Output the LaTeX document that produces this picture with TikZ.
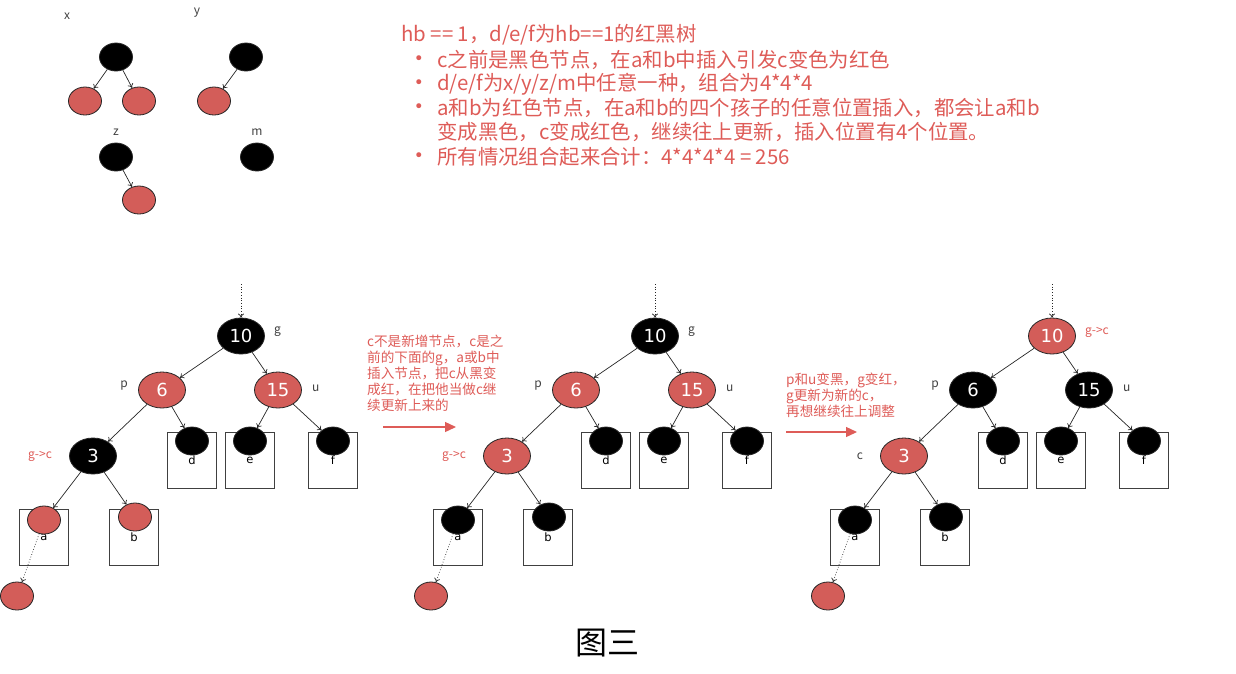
\documentclass[tikz,border=0pt]{standalone}
\usepackage{fontspec}
\setmainfont{DejaVu Sans}
\newfontfamily\cjk{Noto Sans CJK SC}
\usepackage{tikz}
\usetikzlibrary{positioning,shapes.geometric,arrows.meta}
\definecolor{rbred}{RGB}{211,93,89}
\definecolor{txtred}{RGB}{222,92,88}
\tikzset{rbnode/.style={ellipse, draw=black!85, line width=0.8pt, minimum width=47pt, minimum height=36pt, inner sep=0pt, text=white, font=\fontsize{18}{18}\selectfont}}
\tikzset{leaf/.style={ellipse, draw=black!85, line width=0.8pt, minimum width=33pt, minimum height=28pt, inner sep=0pt}}
\tikzset{subbox/.style={draw=black!75, line width=0.8pt, minimum width=49pt, minimum height=56pt, inner sep=0pt, font=\fontsize{11.5}{11.5}\selectfont}}
\tikzset{link/.style={draw=black!85, line width=0.7pt, -{To[length=4pt,width=6pt]}}}
\tikzset{dotlink/.style={link, dotted}}
\tikzset{lab/.style={inner sep=1pt, text=black!75, font=\cjk\fontsize{12}{12}\selectfont}}
\tikzset{txt/.style={inner sep=0pt, text=txtred, font=\cjk\fontsize{20.4}{24}\selectfont}}
\tikzset{stepnote/.style={inner sep=0pt, align=left, text=txtred, font=\cjk\fontsize{13.6}{16}\selectfont}}
\tikzset{bigarr/.style={draw=txtred, line width=1.3pt, -{Triangle[length=11pt,width=10pt]}}}

\begin{document}
\begin{tikzpicture}[x=1pt,y=-1pt]
\useasboundingbox (0,0) rectangle (1236,673);

% the four kinds of subtree
\node[lab] (lx) at (67,16) {x};
\node[lab] (ly) at (197,13) {y};
\node[lab] (lz) at (116,132) {z};
\node[lab] (lm) at (257,132) {m};
\node[leaf, fill=black] (x0) at (116,57) {};
\node[leaf, fill=rbred] (x1) at (85,101) {};
\node[leaf, fill=rbred] (x2) at (139,101) {};
\node[leaf, fill=black] (y0) at (246,57) {};
\node[leaf, fill=rbred] (y1) at (214,101) {};
\node[leaf, fill=black] (z0) at (116,157) {};
\node[leaf, fill=rbred] (z1) at (139,200) {};
\node[leaf, fill=black] (m0) at (257,157) {};
\foreach \a/\b in {x0/x1, x0/x2, y0/y1, z0/z1}
    \draw[link] (\a) -- (\b);

% notes
\node[txt, anchor=west] (ttl) at (401,35) {hb == 1，d/e/f为hb==1的红黑树};
\foreach \yy/\k in {60/1, 84/2, 108/3, 157/4}
    \node[txt, font=\fontsize{17}{17}\selectfont] (bul\k) at (419,\yy) {•};
\node[txt, anchor=west] (it1) at (437,60) {c之前是黑色节点，在a和b中插入引发c变色为红色};
\node[txt, anchor=west] (it2) at (437,84) {d/e/f为x/y/z/m中任意一种，组合为4*4*4};
\node[txt, anchor=west] (it3) at (437,108) {a和b为红色节点，在a和b的四个孩子的任意位置插入，都会让a和b};
\node[txt, anchor=west] (it3b) at (437,132) {变成黑色，c变成红色，继续往上更新，插入位置有4个位置。};
\node[txt, anchor=west] (it4) at (437,157) {所有情况组合起来合计：4*4*4*4 = 256};

% three steps of the update
\foreach \dx/\tr/\rc/\pc/\cc/\lc/\gl/\gcol/\cl/\ccol in {
        0/A/black/rbred/black/rbred/g/black!75/g->c/txtred,
        414/B/black/rbred/rbred/black/g/black!75/g->c/txtred,
        811/C/rbred/black/rbred/black/g->c/txtred/c/black!75} {
    \foreach \lf/\x/\y in {d/192/460, e/250/460, f/333/460, a/44/537, b/134/537}
        \node[subbox] (box\lf\tr) at (\dx+\x,\y) {\lf};
    \foreach \lf/\x in {d/192, e/250, f/333}
        \node[leaf, fill=black] (\lf\tr) at (\dx+\x,441) {};
    \node[leaf, fill=\lc] (a\tr) at (\dx+44,520) {};
    \node[leaf, fill=\lc] (b\tr) at (\dx+135,517) {};
    \node[leaf, fill=rbred] (new\tr) at (\dx+17,596) {};
    \node[rbnode, fill=\rc] (g\tr) at (\dx+241,336) {10};
    \node[rbnode, fill=\pc] (p\tr) at (\dx+162,390) {6};
    \node[rbnode, fill=\pc] (u\tr) at (\dx+278,390) {15};
    \node[rbnode, fill=\cc] (c\tr) at (\dx+93,456) {3};
    \node[lab, text=\gcol, right=8pt of g\tr, yshift=4pt] (gl\tr) {\gl};
    \node[lab, left=9pt of p\tr, yshift=4pt] (pl\tr) {p};
    \node[lab, right=9pt of u\tr, yshift=2pt] (ul\tr) {u};
    \node[lab, text=\ccol, left=16pt of c\tr] (cl\tr) {\cl};
    \foreach \a/\b in {g/p, g/u, p/c, p/d, u/e, u/f, c/a, c/b}
        \draw[link] (\a\tr) -- (\b\tr);
    \coordinate (in\tr) at (\dx+241,284);
    \draw[dotlink] (in\tr) -- (g\tr);
    \draw[dotlink] (a\tr) -- (new\tr);
}

% between the steps
\node[stepnote, anchor=north west] (note1) at (367,335) {c不是新增节点，c是之\\前的下面的g，a或b中\\插入节点，把c从黑变\\成红，在把他当做c继\\续更新上来的};
\coordinate (s1) at (383,427);
\coordinate (e1) at (456,427);
\draw[bigarr] (s1) -- (e1);
\node[stepnote, anchor=north west] (note2) at (786,373) {p和u变黑，g变红，\\g更新为新的c，\\再想继续往上调整};
\coordinate (s2) at (786,432);
\coordinate (e2) at (857,432);
\draw[bigarr] (s2) -- (e2);

\node[font=\cjk\fontsize{32}{32}\selectfont] (fig) at (607,643) {图三};
\end{tikzpicture}
\end{document}
